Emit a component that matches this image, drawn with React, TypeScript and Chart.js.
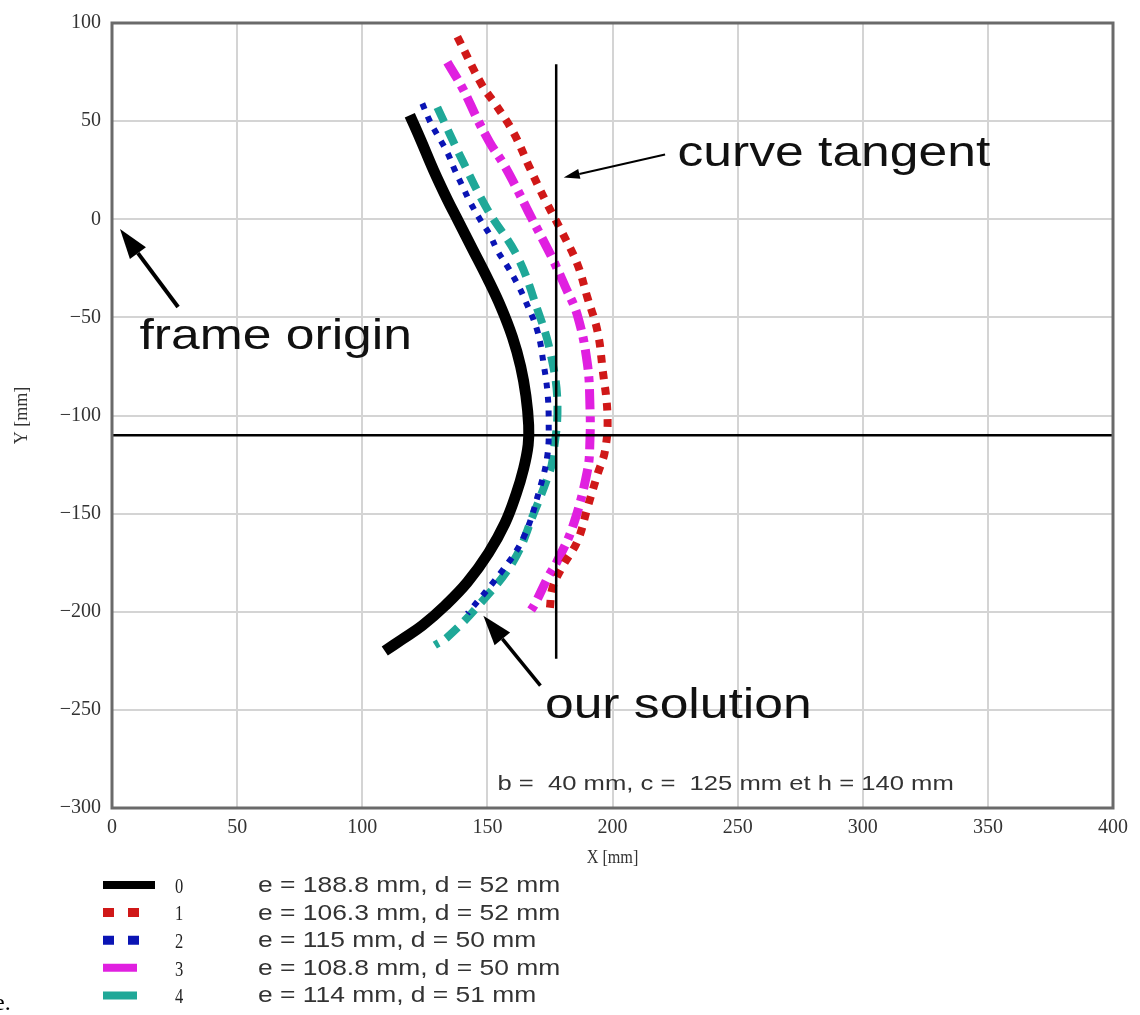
import React, { useEffect, useRef } from "react";
import { Chart, registerables } from "chart.js";

Chart.register(...registerables);

// ---------- data ----------
const seriesNames = ["0", "1", "2", "3", "4"];
const seriesDescriptions = [
  "e = 188.8 mm, d = 52 mm",
  "e = 106.3 mm, d = 52 mm",
  "e = 115 mm, d = 50 mm",
  "e = 108.8 mm, d = 50 mm",
  "e = 114 mm, d = 51 mm",
];

const curve0X = [119, 123.5, 128.5, 134, 138, 144, 150, 155.5, 160, 163.3, 165.4, 166.5, 166.3, 164.5, 161.5, 157, 150.5, 142, 133, 124, 116, 109];
const curve0Y = [53, 40, 25, 10, 0, -15, -30, -45, -60, -75, -90, -105, -115, -127, -140, -155, -170, -185, -197, -207, -214, -220];

const curve1X = [138, 148, 153, 160.5, 167, 173, 180, 186, 190, 194, 196, 198, 197, 194, 190, 186, 180, 176, 175];
const curve1Y = [93, 68, 59, 44, 26, 10, -7, -23, -40, -57, -76, -100, -118, -130, -147, -164, -177, -188, -198];

const curve2X = [124, 127, 130, 134, 137, 140, 143, 147, 151, 154, 158, 162, 165, 170, 172.5, 174, 174.5, 174, 171, 164.5, 156, 142];
const curve2Y = [59, 50, 43, 34, 25, 17, 9, 0, -8, -16, -24, -33, -41, -57, -74, -88, -103, -120, -137, -162, -179, -201];

const curve3X = [134, 140, 146, 151, 156.5, 162, 166.5, 172, 176, 181, 186, 190, 191, 191, 190, 184, 178, 174, 169, 167];
const curve3Y = [80, 67, 51, 39, 28, 15, 3.5, -10, -20, -34, -49, -74, -96, -112, -128, -157, -174, -183, -196, -200];

const curve4X = [130, 140, 150, 162, 170, 175, 178, 176, 174.5, 168.5, 160.5, 147, 134, 129];
const curve4Y = [57, 30, 5, -19, -46, -67, -94, -123, -130, -150, -174, -196, -213, -217];

const tangentLineX = [177.5, 177.5];
const tangentLineY = [79, -224];
const frameLineX = [0, 400];
const frameLineY = [-110, -110];

const xTickMin = 0, xTickMax = 400, xTickStep = 50;
const yTickMin = -300, yTickMax = 100, yTickStep = 50;

const annotationTexts = ["curve tangent", "frame origin", "our solution"];
const annotationX = [226, 11, 173];
const annotationY = [33, -60, -248];
const arrowFromX = [221, 26.4, 171.2];
const arrowFromY = [33, -44.7, -237.6];
const arrowToX = [180.5, 3.2, 148.4];
const arrowToY = [21.3, -5, -202];

const parameterNote = "b =  40 mm, c =  125 mm et h = 140 mm";
const parameterNoteX = 154;
const parameterNoteY = -288;

// ---------- styles ----------
const seriesColors = ["#000000", "#d01818", "#0a14b4", "#e020e0", "#1fa898"];
const seriesWidths = [11, 8, 6, 9, 8];
const seriesDashes: number[][] = [[], [8, 8], [6, 8], [20, 7, 6, 7], [16, 9]];
const legendDashes: number[][] = [[], [11, 14], [11, 14], [], []];
const legendEnds = [155, 142, 142, 137, 137];
const legendWidths = [8, 9, 9, 8, 8];

const SANS = "'Liberation Sans', Arial, sans-serif";
const SERIF = "'Liberation Serif', 'Times New Roman', serif";

function pts(xs: number[], ys: number[]) {
  return xs.map((x, i) => ({ x, y: ys[i] }));
}

function stretchedText(
  ctx: CanvasRenderingContext2D,
  s: string,
  x: number,
  y: number,
  font: string,
  sx: number,
  align: CanvasTextAlign = "left",
  color = "#111"
) {
  ctx.save();
  ctx.translate(x, y);
  ctx.scale(sx, 1);
  ctx.font = font;
  ctx.fillStyle = color;
  ctx.textAlign = align;
  ctx.textBaseline = "middle";
  ctx.fillText(s, 0, 0);
  ctx.restore();
}

function arrow(
  ctx: CanvasRenderingContext2D,
  x1: number,
  y1: number,
  x2: number,
  y2: number,
  lw: number,
  headLen: number,
  headW: number
) {
  const a = Math.atan2(y2 - y1, x2 - x1);
  const bx = x2 - Math.cos(a) * headLen;
  const by = y2 - Math.sin(a) * headLen;
  ctx.save();
  ctx.strokeStyle = "#000";
  ctx.fillStyle = "#000";
  ctx.lineWidth = lw;
  ctx.setLineDash([]);
  ctx.beginPath();
  ctx.moveTo(x1, y1);
  ctx.lineTo(bx, by);
  ctx.stroke();
  ctx.beginPath();
  ctx.moveTo(x2, y2);
  ctx.lineTo(bx + Math.sin(a) * headW / 2, by - Math.cos(a) * headW / 2);
  ctx.lineTo(bx - Math.sin(a) * headW / 2, by + Math.cos(a) * headW / 2);
  ctx.closePath();
  ctx.fill();
  ctx.restore();
}

const decorPlugin = {
  id: "decor",
  afterDraw(chart: any) {
    const ctx: CanvasRenderingContext2D = chart.ctx;
    const xs = chart.scales.x;
    const ys = chart.scales.y;
    const ca = chart.chartArea;

    // frame box
    ctx.save();
    ctx.strokeStyle = "#6a6a6a";
    ctx.lineWidth = 3;
    ctx.setLineDash([]);
    ctx.strokeRect(ca.left, ca.top, ca.right - ca.left, ca.bottom - ca.top);
    ctx.restore();

    // annotations
    const headLens = [16, 30, 30];
    const headWs = [10, 20, 20];
    const lws = [2, 4, 3.5];
    annotationTexts.forEach((t, i) => {
      arrow(
        ctx,
        xs.getPixelForValue(arrowFromX[i]),
        ys.getPixelForValue(arrowFromY[i]),
        xs.getPixelForValue(arrowToX[i]),
        ys.getPixelForValue(arrowToY[i]),
        lws[i],
        headLens[i],
        headWs[i]
      );
      stretchedText(
        ctx,
        t,
        xs.getPixelForValue(annotationX[i]),
        ys.getPixelForValue(annotationY[i]),
        `43px ${SANS}`,
        1.2
      );
    });
    stretchedText(
      ctx,
      parameterNote,
      xs.getPixelForValue(parameterNoteX),
      ys.getPixelForValue(parameterNoteY),
      `21px ${SANS}`,
      1.22,
      "left",
      "#333"
    );

    // axis titles
    stretchedText(ctx, "X [mm]", (ca.left + ca.right) / 2, ca.bottom + 50, `18px ${SERIF}`, 0.9, "center", "#333");
    ctx.save();
    ctx.translate(22, (ca.top + ca.bottom) / 2);
    ctx.rotate(-Math.PI / 2);
    ctx.font = `18px ${SERIF}`;
    ctx.fillStyle = "#333";
    ctx.textAlign = "center";
    ctx.textBaseline = "middle";
    ctx.fillText("Y [mm]", 0, 0);
    ctx.restore();

    // legend
    seriesNames.forEach((name, i) => {
      const y = 885 + i * 27.6;
      ctx.save();
      ctx.strokeStyle = seriesColors[i];
      ctx.lineWidth = legendWidths[i];
      ctx.lineCap = "butt";
      ctx.setLineDash(legendDashes[i]);
      ctx.beginPath();
      ctx.moveTo(103, y);
      ctx.lineTo(legendEnds[i], y);
      ctx.stroke();
      ctx.restore();
      stretchedText(ctx, name, 179, y + 2, `22px ${SERIF}`, 0.75, "center", "#222");
      stretchedText(ctx, seriesDescriptions[i], 258, y + 1, `22px ${SANS}`, 1.2, "left", "#333");
    });

    // stray caption fragment at bottom-left
    ctx.save();
    ctx.font = `24px ${SERIF}`;
    ctx.fillStyle = "#000";
    ctx.textBaseline = "alphabetic";
    ctx.fillText("e.", -6, 1010);
    ctx.restore();
  },
};

export default function App() {
  const canvasRef = useRef<HTMLCanvasElement | null>(null);

  useEffect(() => {
    if (!canvasRef.current) return;
    const curvesX = [curve0X, curve1X, curve2X, curve3X, curve4X];
    const curvesY = [curve0Y, curve1Y, curve2Y, curve3Y, curve4Y];

    const refLine = (xs: number[], ys: number[]) => ({
      label: "",
      data: pts(xs, ys),
      showLine: true,
      borderColor: "#000",
      borderWidth: 2.5,
      pointRadius: 0,
      tension: 0,
    });

    const datasets: any[] = [refLine(tangentLineX, tangentLineY), refLine(frameLineX, frameLineY)];
    seriesNames.forEach((n, i) => {
      datasets.push({
        label: n,
        data: pts(curvesX[i], curvesY[i]),
        showLine: true,
        borderColor: seriesColors[i],
        borderWidth: seriesWidths[i],
        borderDash: seriesDashes[i],
        borderCapStyle: "butt",
        borderJoinStyle: "round",
        pointRadius: 0,
        tension: 0.4,
      });
    });

    const tickFont = { family: SERIF, size: 20 };
    const chart = new Chart(canvasRef.current, {
      type: "scatter",
      data: { datasets },
      options: {
        animation: false,
        responsive: false,
        maintainAspectRatio: false,
        layout: { padding: { top: 20, right: 27, left: 0, bottom: 0 } },
        plugins: { legend: { display: false }, tooltip: { enabled: false } },
        scales: {
          x: {
            type: "linear",
            min: xTickMin,
            max: xTickMax,
            ticks: {
              stepSize: xTickStep,
              font: tickFont,
              color: "#333",
              padding: 8,
              maxRotation: 0,
            },
            grid: { color: "#d4d4d4", lineWidth: 2, drawTicks: false },
            border: { display: false },
            afterFit: (s: any) => {
              s.height = 207;
            },
          },
          y: {
            type: "linear",
            min: yTickMin,
            max: yTickMax,
            ticks: {
              stepSize: yTickStep,
              font: tickFont,
              color: "#333",
              padding: 11,
              callback: (v: any) => (Number(v) < 0 ? "\u2212" + Math.abs(Number(v)) : String(v)),
            },
            grid: { color: "#d4d4d4", lineWidth: 2, drawTicks: false },
            border: { display: false },
            afterFit: (s: any) => {
              s.width = 112;
            },
          },
        },
      },
      plugins: [decorPlugin],
    } as any);
    return () => chart.destroy();
  }, []);

  return (
    <div style={{ width: 1140, height: 1015, position: "relative", background: "#fff" }}>
      <style>{`body{margin:0;background:#fff}`}</style>
      <canvas ref={canvasRef} width={1140} height={1015} style={{ display: "block" }} />
    </div>
  );
}
